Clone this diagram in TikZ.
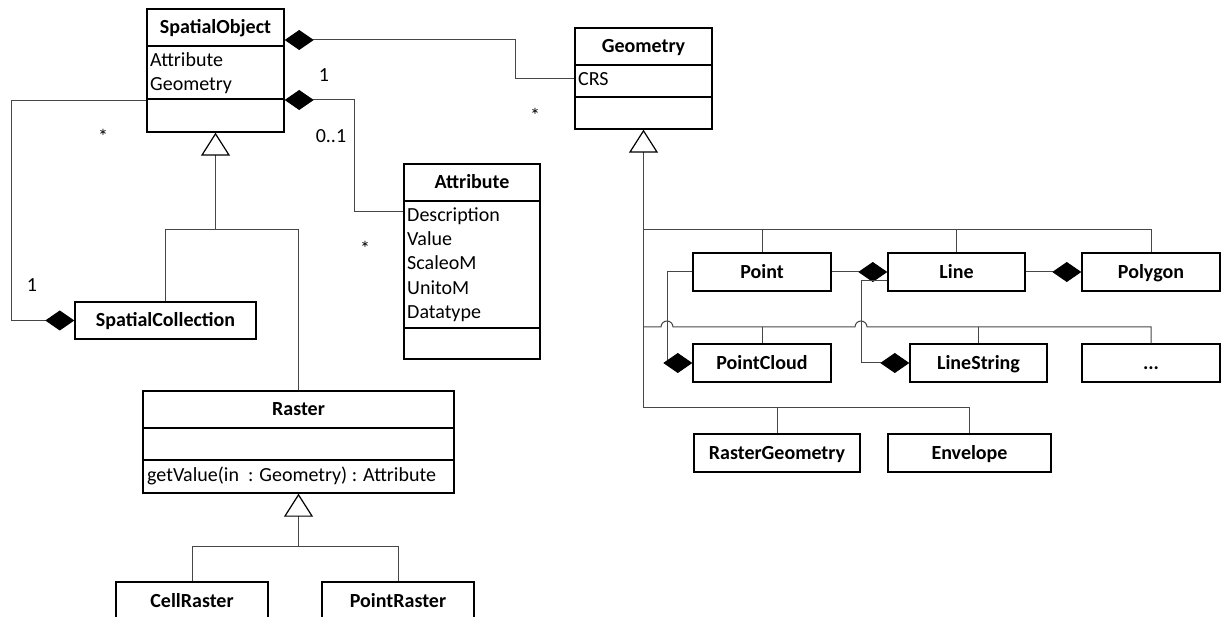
\documentclass[tikz,border=0pt]{standalone}
\usepackage{fontspec}
\setmainfont{Carlito}
\usetikzlibrary{arrows.meta}
\begin{document}
\begin{tikzpicture}[x=1pt,y=-1pt,
  fnt/.style={font=\fontsize{20}{24}\selectfont},
  cls/.style={draw=black, line width=1.4pt, fill=white, inner sep=0pt, minimum height=38pt,
    text height=13pt, text depth=0pt, fnt, font=\fontsize{20}{24}\selectfont\bfseries},
  frame/.style={draw=black, line width=1.4pt, fill=white, inner sep=0pt},
  divl/.style={draw=black, line width=1.4pt},
  txt/.style={inner sep=0pt, fnt},
  conn/.style={draw=black!72, line width=1pt},
  compS/.style={conn, {Diamond[length=29pt,width=20pt,color=black]}-},
  compE/.style={conn, -{Diamond[length=29pt,width=20pt,color=black]}},
  gen/.style={conn, {Triangle[open,length=23pt,width=29pt,color=black,line width=1.2pt]}-},
]
\useasboundingbox (0,0) rectangle (1221,617);
\fill[white] (0,0) rectangle (1221,617);
\clip (0,0) rectangle (1221,617);

% ---------- classes ----------
\node[frame, minimum width=137pt, minimum height=123pt] (so) at (215.5,70.5) {};
\draw[divl] (so.west |- 0,46) -- (so.east |- 0,46);
\draw[divl] (so.west |- 0,99) -- (so.east |- 0,99);
\node[txt, anchor=base, font=\fontsize{20}{24}\selectfont\bfseries] (soT) at (215.5,34) {SpatialObject};
\node[txt, anchor=base west] (soA1) at (150,67) {Attribute};
\node[txt, anchor=base west] (soA2) at (150,91) {Geometry};

\node[frame, minimum width=137pt, minimum height=101pt] (geo) at (643.5,78.5) {};
\draw[divl] (geo.west |- 0,65) -- (geo.east |- 0,65);
\draw[divl] (geo.west |- 0,97) -- (geo.east |- 0,97);
\node[txt, anchor=base, font=\fontsize{20}{24}\selectfont\bfseries] (geoT) at (643.5,53) {Geometry};
\node[txt, anchor=base west] (geoA1) at (578,86) {CRS};

\node[frame, minimum width=136pt, minimum height=195pt] (attr) at (472,261.5) {};
\draw[divl] (attr.west |- 0,201) -- (attr.east |- 0,201);
\draw[divl] (attr.west |- 0,328) -- (attr.east |- 0,328);
\node[txt, anchor=base, font=\fontsize{20}{24}\selectfont\bfseries] (attrT) at (472,189) {Attribute};
\node[txt, anchor=base west] (attrA1) at (407,221.5) {Description};
\node[txt, anchor=base west] (attrA2) at (407,246) {Value};
\node[txt, anchor=base west] (attrA3) at (407,270) {ScaleoM};
\node[txt, anchor=base west] (attrA4) at (407,294.5) {UnitoM};
\node[txt, anchor=base west] (attrA5) at (407,319) {Datatype};

\node[frame, minimum width=311pt, minimum height=102pt] (ras) at (298.5,442) {};
\draw[divl] (ras.west |- 0,428) -- (ras.east |- 0,428);
\draw[divl] (ras.west |- 0,460) -- (ras.east |- 0,460);
\node[txt, anchor=base, font=\fontsize{20}{24}\selectfont\bfseries] (rasT) at (298.5,416) {Raster};
\node[txt, anchor=base west] (rasM) at (147,481) {getValue(in\ \ : Geometry) : Attribute};

\node[cls, minimum width=181pt, minimum height=37pt] (sc) at (165.5,320.5) {SpatialCollection};
\node[cls, minimum width=152pt] (cr) at (192,601) {CellRaster};
\node[cls, minimum width=152pt] (pr) at (398,601) {PointRaster};

\node[cls, minimum width=138pt] (pt) at (762,272) {Point};
\node[cls, minimum width=137pt] (ln) at (956.5,272) {Line};
\node[cls, minimum width=138pt] (pg) at (1151,272) {Polygon};
\node[cls, minimum width=138pt] (pc) at (762,363) {PointCloud};
\node[cls, minimum width=137pt] (ls) at (978.5,363) {LineString};
\node[cls, minimum width=138pt] (dt) at (1151,363) {...};
\node[cls, minimum width=166pt] (rg) at (777,453) {RasterGeometry};
\node[cls, minimum width=163pt] (env) at (969.5,453) {Envelope};

% ---------- generalizations ----------
\coordinate (g1) at (215.5,230);
\draw[gen] (so.south) -- (g1);
\draw[conn] (sc.north) -- (sc.north |- g1) -- (ras.north |- g1) -- (ras.north);

\coordinate (g2) at (298.5,546);
\draw[gen] (ras.south) -- (g2);
\draw[conn] (cr.north) -- (cr.north |- g2) -- (pr.north |- g2) -- (pr.north);

\coordinate (g3) at (643.5,408);
\draw[gen] (geo.south) -- (g3);
\draw[conn] (g3 |- 0,230) -| (pt.north);
\draw[conn] (pt.north |- 0,230) -| (ln.north);
\draw[conn] (ln.north |- 0,230) -| (pg.north);
\draw[conn] (g3 |- 0,327) -- (661,327) arc[start angle=180,end angle=0,radius=6pt]
   -- (855,327) arc[start angle=180,end angle=0,radius=6pt] -- (pg.north |- 0,327) -- (dt.north);
\draw[conn] (pc.north) -- (pc.north |- 0,327);
\draw[conn] (ls.north) -- (ls.north |- 0,327);
\draw[conn] (g3) -| (rg.north);
\draw[conn] (rg.north |- g3) -| (env.north);

% ---------- compositions ----------
\draw[compS] (so.east |- 0,40) -- (515,40) -- (515,79) -- (geo.west |- 0,79);
\draw[compS] (so.east |- 0,100) -- (354,100) -- (354,212) -- (attr.west |- 0,212);
\draw[compE] (so.west |- 0,101) -- (11,101) -- (11,320.5) -- (sc.west);
\draw[compE] (pt.west) -- (667,272) -- (667,363) -- (pc.west);
\draw[compE] (pt.east) -- (ln.west);
\draw[compE] (ln.east) -- (pg.west);
\draw[compE] (ln.west |- 0,281) -- (861,281) -- (861,363) -- (ls.west);

% ---------- multiplicities ----------
\node[txt, anchor=base] (m1) at (324,82) {1};
\node[txt, anchor=base] (m2) at (535,123) {*};
\node[txt, anchor=base] (m3) at (331,143) {0..1};
\node[txt, anchor=base] (m4) at (365,256) {*};
\node[txt, anchor=base] (m5) at (103,144) {*};
\node[txt, anchor=base] (m6) at (32,292) {1};
\end{tikzpicture}
\end{document}
